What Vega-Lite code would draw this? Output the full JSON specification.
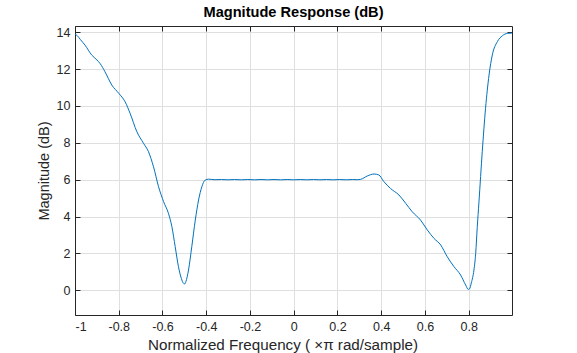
{
  "$schema": "https://vega.github.io/schema/vega-lite/v6.json",
  "autosize": {"type": "none"},
  "padding": {"left": 75, "top": 26, "right": 65, "bottom": 38},
  "width": 437,
  "height": 289,
  "background": "white",
  "config": {
    "view": {"stroke": null},
    "font": "Liberation Sans",
    "axis": {
      "domainColor": "#262626",
      "domainWidth": 1,
      "tickColor": "#262626",
      "tickWidth": 1,
      "tickSize": -5,
      "labelColor": "#262626",
      "labelFont": "Liberation Sans",
      "labelFontSize": 12.5,
      "titleFont": "Liberation Sans",
      "titleFontSize": 14.5,
      "titleFontWeight": "normal",
      "titleColor": "#262626",
      "gridColor": "#dfdfdf",
      "gridWidth": 1
    }
  },
  "title": {
    "text": "Magnitude Response (dB)",
    "font": "Liberation Sans",
    "fontSize": 14.6,
    "fontWeight": "bold",
    "color": "#000000",
    "anchor": "middle",
    "frame": "group",
    "baseline": "alphabetic",
    "offset": -6.3
  },
  "data": {
    "values": [
      {"f": -1.0, "m": 13.9},
      {"f": -0.99, "m": 13.82},
      {"f": -0.975, "m": 13.6},
      {"f": -0.954, "m": 13.3},
      {"f": -0.924, "m": 12.77},
      {"f": -0.9, "m": 12.5},
      {"f": -0.885, "m": 12.3},
      {"f": -0.863, "m": 11.86},
      {"f": -0.832, "m": 11.14},
      {"f": -0.8, "m": 10.69},
      {"f": -0.771, "m": 10.23},
      {"f": -0.748, "m": 9.6},
      {"f": -0.717, "m": 8.6},
      {"f": -0.687, "m": 7.98},
      {"f": -0.664, "m": 7.52},
      {"f": -0.641, "m": 6.7},
      {"f": -0.618, "m": 5.62},
      {"f": -0.595, "m": 4.81},
      {"f": -0.573, "m": 4.18},
      {"f": -0.557, "m": 3.45},
      {"f": -0.542, "m": 2.37},
      {"f": -0.527, "m": 1.28},
      {"f": -0.514, "m": 0.65},
      {"f": -0.504, "m": 0.38},
      {"f": -0.498, "m": 0.35},
      {"f": -0.493, "m": 0.47},
      {"f": -0.481, "m": 1.1},
      {"f": -0.466, "m": 2.37},
      {"f": -0.45, "m": 3.81},
      {"f": -0.435, "m": 4.9},
      {"f": -0.42, "m": 5.62},
      {"f": -0.405, "m": 5.98},
      {"f": -0.389, "m": 6.03},
      {"f": -0.36, "m": 6.0},
      {"f": -0.33, "m": 6.01},
      {"f": -0.3, "m": 5.995},
      {"f": -0.27, "m": 6.01},
      {"f": -0.24, "m": 5.995},
      {"f": -0.21, "m": 6.01},
      {"f": -0.18, "m": 5.995},
      {"f": -0.15, "m": 6.01},
      {"f": -0.12, "m": 5.995},
      {"f": -0.09, "m": 6.01},
      {"f": -0.06, "m": 5.995},
      {"f": -0.03, "m": 6.01},
      {"f": 0.0, "m": 5.995},
      {"f": 0.03, "m": 6.01},
      {"f": 0.06, "m": 5.995},
      {"f": 0.09, "m": 6.01},
      {"f": 0.12, "m": 5.995},
      {"f": 0.15, "m": 6.01},
      {"f": 0.18, "m": 5.995},
      {"f": 0.21, "m": 6.01},
      {"f": 0.24, "m": 5.995},
      {"f": 0.27, "m": 6.01},
      {"f": 0.29, "m": 6.0},
      {"f": 0.306, "m": 6.02},
      {"f": 0.336, "m": 6.2},
      {"f": 0.367, "m": 6.31},
      {"f": 0.389, "m": 6.26},
      {"f": 0.412, "m": 5.9},
      {"f": 0.442, "m": 5.53},
      {"f": 0.481, "m": 5.17},
      {"f": 0.512, "m": 4.72},
      {"f": 0.542, "m": 4.26},
      {"f": 0.58, "m": 3.81},
      {"f": 0.611, "m": 3.27},
      {"f": 0.641, "m": 2.82},
      {"f": 0.672, "m": 2.46},
      {"f": 0.702, "m": 1.82},
      {"f": 0.733, "m": 1.28},
      {"f": 0.763, "m": 0.83},
      {"f": 0.786, "m": 0.29},
      {"f": 0.798, "m": 0.05},
      {"f": 0.804, "m": 0.08},
      {"f": 0.812, "m": 0.4},
      {"f": 0.824, "m": 1.1},
      {"f": 0.832, "m": 2.0},
      {"f": 0.839, "m": 3.4},
      {"f": 0.847, "m": 4.8},
      {"f": 0.862, "m": 7.52},
      {"f": 0.877, "m": 9.87},
      {"f": 0.893, "m": 11.68},
      {"f": 0.908, "m": 12.77},
      {"f": 0.931, "m": 13.49},
      {"f": 0.954, "m": 13.81},
      {"f": 0.977, "m": 13.94},
      {"f": 0.998, "m": 13.96}
    ]
  },
  "layer": [
    {
      "mark": {"type": "line", "color": "#0072BD", "strokeWidth": 1, "interpolate": "monotone", "clip": true},
      "encoding": {
        "x": {
          "field": "f", "type": "quantitative",
          "scale": {"domain": [-1, 0.998], "nice": false, "zero": false},
          "axis": {
            "orient": "bottom",
            "values": [-1, -0.8, -0.6, -0.4, -0.2, 0, 0.2, 0.4, 0.6, 0.8],
            "labelExpr": "'' + datum.value",
            "grid": true,
            "labelPadding": 10,
            "title": "Normalized Frequency ( ×π rad/sample)",
            "titleFontSize": 15.2,
            "titleX": 207.5,
            "titleY": 34.7,
            "titleAlign": "center",
            "titleBaseline": "alphabetic"
          }
        },
        "y": {
          "field": "m", "type": "quantitative",
          "scale": {"domain": [-1.34, 14.34], "nice": false, "zero": false},
          "axis": {
            "orient": "left",
            "values": [0, 2, 4, 6, 8, 10, 12, 14],
            "grid": true,
            "labelPadding": 10,
            "title": "Magnitude (dB)",
            "titleX": -31,
            "titleY": 144.5,
            "titleAngle": -90,
            "titleAlign": "center",
            "titleBaseline": "middle"
          }
        }
      }
    },
    {
      "mark": {"type": "line", "opacity": 0},
      "encoding": {
        "x": {
          "field": "f", "type": "quantitative",
          "axis": {
            "orient": "top",
            "values": [-1, -0.8, -0.6, -0.4, -0.2, 0, 0.2, 0.4, 0.6, 0.8],
            "labels": false, "grid": false, "title": null
          }
        },
        "y": {
          "field": "m", "type": "quantitative",
          "axis": {
            "orient": "right",
            "values": [0, 2, 4, 6, 8, 10, 12, 14],
            "labels": false, "grid": false, "title": null
          }
        }
      }
    }
  ],
  "resolve": {"axis": {"x": "independent", "y": "independent"}}
}
